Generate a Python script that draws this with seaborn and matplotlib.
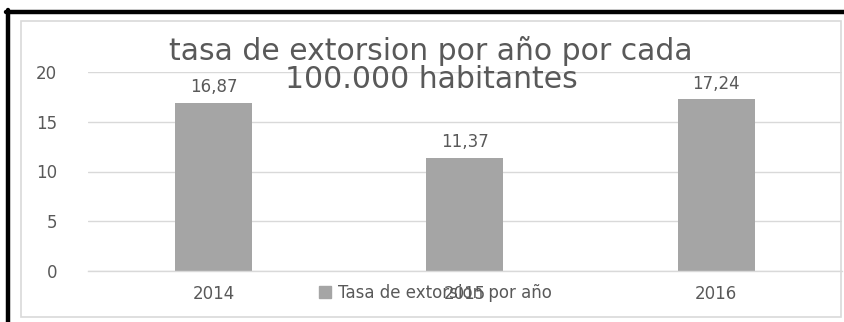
import matplotlib
matplotlib.use("Agg")
import matplotlib.pyplot as plt
import seaborn as sns
import pandas as pd
from matplotlib.lines import Line2D
from matplotlib.patches import Rectangle

# datos
anios = ["2014", "2015", "2016"]
tasas = [16.87, 11.37, 17.24]
etiquetas = ["16,87", "11,37", "17,24"]
titulo = "tasa de extorsion por año por cada\n100.000 habitantes"
serie = "Tasa de extorsion por año"

sns.set_style("white")
plt.rcParams["font.family"] = ["DejaVu Sans"]

gris_barra = "#A5A5A5"
gris_texto = "#595959"
gris_linea = "#D9D9D9"

W, H = 844, 322
fig = plt.figure(figsize=(W / 100, H / 100), dpi=100)
ax = fig.add_axes([87.75 / W, 51 / H, (842 - 87.75) / W, (271 - 72) / H])

df = pd.DataFrame({"anio": anios, "tasa": tasas})
sns.barplot(data=df, x="anio", y="tasa", color=gris_barra, saturation=1,
            width=0.306, linewidth=0, ax=ax)

ax.set_ylim(0, 20)
ax.set_yticks([0, 5, 10, 15, 20])
ax.set_xlim(-0.5, 2.5)
ax.yaxis.grid(True, color=gris_linea, linewidth=1)
ax.set_axisbelow(True)
for s in ["top", "left", "right"]:
    ax.spines[s].set_visible(False)
ax.spines["bottom"].set_color(gris_linea)
ax.spines["bottom"].set_linewidth(1)
ax.set_xlabel("")
ax.set_ylabel("")
ax.tick_params(axis="y", length=0, pad=22, labelsize=12, labelcolor=gris_texto)
ax.tick_params(axis="x", length=0, pad=10, labelsize=12, labelcolor=gris_texto)

ax.bar_label(ax.containers[0], labels=etiquetas, padding=5,
             fontsize=12, color=gris_texto)

# titulo
fig.text(431 / W, 1 - 65 / H, titulo, ha="center", va="center",
         fontsize=21.5, color=gris_texto, linespacing=1.0)

# leyenda
handle = Line2D([], [], marker="s", linestyle="none", markersize=9,
                markerfacecolor=gris_barra, markeredgecolor=gris_barra)
fig.legend([handle], [serie], loc="center", bbox_to_anchor=(434 / W, 1 - 293 / H),
           frameon=False, fontsize=12, labelcolor=gris_texto,
           handletextpad=0.3, handlelength=1.0)

# borde del grafico
fig.add_artist(Rectangle((21 / W, 5 / H), (841 - 21) / W, (317 - 21) / H,
                         transform=fig.transFigure, fill=False,
                         edgecolor=gris_linea, linewidth=1.2))
# borde negro
fig.add_artist(Line2D([6 / W, 1], [1 - 12 / H, 1 - 12 / H], color="black",
                      linewidth=3.2, transform=fig.transFigure))
fig.add_artist(Line2D([8 / W, 8 / W], [0, 1 - 10 / H], color="black",
                      linewidth=3.2, transform=fig.transFigure))

fig.savefig("out.png", dpi=100, facecolor="white")
